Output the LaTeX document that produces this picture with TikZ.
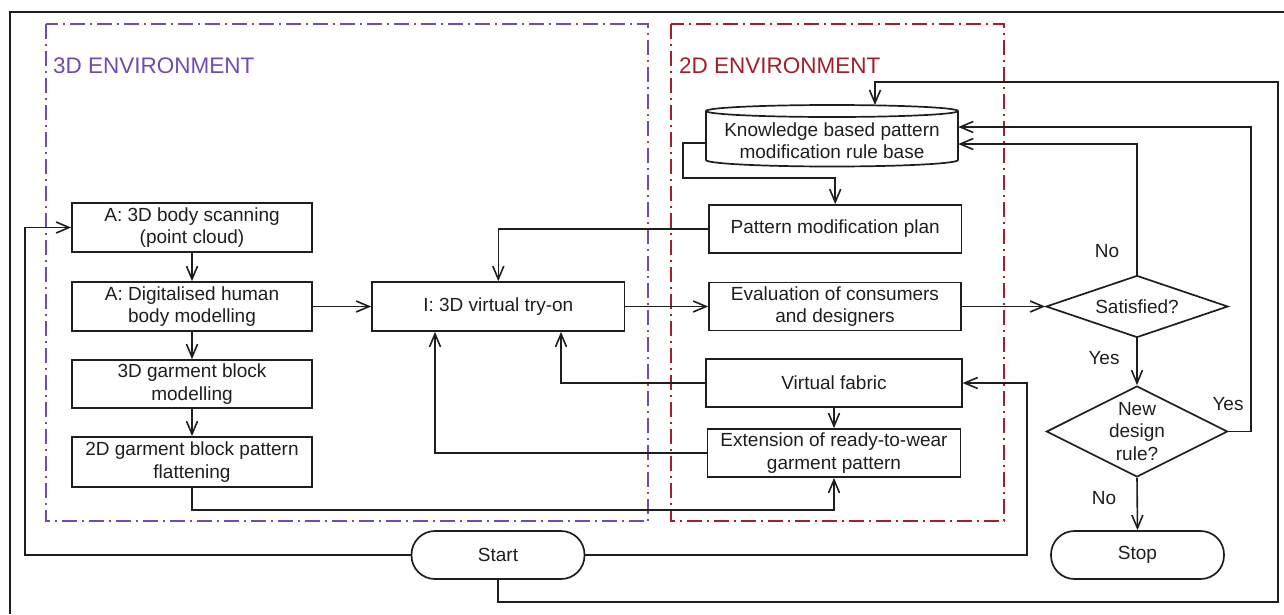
\documentclass[tikz,border=0pt]{standalone}
\usepackage{fontspec}
\setmainfont{Liberation Sans}
\usetikzlibrary{arrows.meta,shapes.geometric,calc}
\definecolor{envpurple}{RGB}{112,76,178}
\definecolor{envred}{RGB}{160,32,44}
\definecolor{ink}{RGB}{30,30,30}
\begin{document}
\begin{tikzpicture}[x=1pt,y=-1pt,
  every node/.style={font=\fontsize{19}{22.5}\selectfont, text=ink},
  box/.style={draw=ink, line width=1.7pt, rectangle, align=center, inner sep=0pt},
  term/.style={draw=ink, line width=1.7pt, rounded corners=23.5pt, minimum width=173pt, minimum height=48pt, inner sep=0pt},
  dec/.style={draw=ink, line width=1.7pt, diamond, inner sep=0pt, shape aspect=3},
  conn/.style={draw=ink, line width=1.6pt},
  arr/.style={conn, -{Straight Barb[length=13pt,width=11pt]}},
  env/.style={line width=2pt, dash pattern=on 15pt off 5pt on 2pt off 5pt},
  envlabel/.style={font=\fontsize{22.5}{26}\selectfont, anchor=base west, inner sep=0pt},
  lbl/.style={inner sep=0pt}
]
\useasboundingbox (0,0) rectangle (1284,614);
% frame
\draw[line width=1.4pt, ink] (10,614) -- (10,12) -- (1284,12);
% environments
\draw[env, envpurple] (45.5,24) rectangle (648,521);
\draw[env, envred] (671,24) rectangle (1004,521);
\node[envlabel, text=envpurple] (env3d) at (53,73) {3D ENVIRONMENT};
\node[envlabel, text=envred] (env2d) at (679,73) {2D ENVIRONMENT};

% left column
\node[box, minimum width=240pt, minimum height=49pt] (scan) at (192,227.5) {A: 3D body scanning\\(point cloud)};
\node[box, minimum width=240pt, minimum height=49pt] (digit) at (192,306.5) {A: Digitalised human\\body modelling};
\node[box, minimum width=240pt, minimum height=48pt] (garm) at (192,384) {3D garment block\\modelling};
\node[box, minimum width=240pt, minimum height=50pt] (flat) at (192,462) {2D garment block pattern\\flattening};
\node[box, minimum width=252.6pt, minimum height=49pt] (try) at (498.3,306.5) {I: 3D virtual try-on};

% knowledge base cylinder
\node[inner sep=0pt, minimum width=252pt, minimum height=61pt,
  label={[yshift=-5pt, align=center, inner sep=0pt]center:Knowledge based pattern\\modification rule base}] (kb) at (832,135.5) {};
\draw[conn, line width=1.7pt] (832,111) ellipse [x radius=126pt, y radius=6pt];
\draw[conn, line width=1.7pt] (706,111) -- (706,160) arc[start angle=180, end angle=360, x radius=126pt, y radius=6.5pt] -- (958,111);
\coordinate (kbtop) at (875,105);

% right column
\node[box, minimum width=252.5pt, minimum height=48pt] (pmp) at (835.2,229) {Pattern modification plan};
\node[box, minimum width=252pt, minimum height=48pt] (eval) at (835,306.5) {Evaluation of consumers\\and designers};
\node[box, minimum width=255.5pt, minimum height=48pt] (vf) at (834,383) {Virtual fabric};
\node[box, minimum width=253pt, minimum height=48pt] (ext) at (834,453) {Extension of ready-to-wear\\garment pattern};

% decisions and terminals
\node[dec, minimum width=182pt, minimum height=62pt] (sat) at (1137,306.5) {Satisfied?};
\node[dec, minimum width=181pt, minimum height=91pt,
  label={[align=center, inner sep=0pt]center:New\\design\\rule?}] (nd) at (1137,431.5) {};
\node[term] (stop) at (1137.5,555) {Stop};
\node[term] (start) at (498,555) {Start};

% edge labels
\node[lbl] (no1) at (1107,251) {No};
\node[lbl] (yes1) at (1104,358) {Yes};
\node[lbl] (yes2) at (1228,404) {Yes};
\node[lbl] (no2) at (1104,498) {No};

% connectors
\draw[arr] (scan.south) -- (digit.north);
\draw[arr] (digit.south) -- (garm.north);
\draw[arr] (garm.south) -- (flat.north);
\draw[arr] (start.west) -- (25,555) |- (scan.west);
\draw[arr] (start.east) -- (1027,555) |- (vf.east);
\draw[arr] (start.south) |- (1278,602) -- (1278,82) -| (kbtop);
\draw[arr] (kb.west |- 0,143) -- (683,143) -- (683,178) -| (pmp.north);
\draw[arr] (pmp.west) -| (try.north);
\draw[arr] (digit.east) -- (try.west);
\draw[arr] (try.east) -- (eval.west);
\draw[arr] (eval.east) -- (sat.west);
\draw[arr] (sat.north) |- (kb.east |- 0,144);
\draw[arr] (sat.south) -- (nd.north);
\draw[arr] (nd.east) -- (1251,431.5) |- (kb.east |- 0,127);
\draw[arr] (nd.south) -- (stop.north);
\draw[arr] (vf.west) -| (try.south -| 561,0);
\draw[arr] (ext.west) -| (try.south -| 435,0);
\draw[arr] (vf.south) -- (ext.north);
\draw[arr] (flat.south) -- ++(0,22) -| (ext.south);
\end{tikzpicture}
\end{document}
